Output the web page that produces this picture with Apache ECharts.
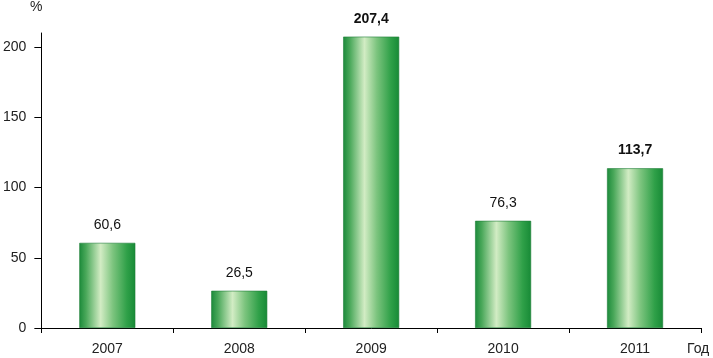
<!DOCTYPE html>
<html><head><meta charset="utf-8">
<script src="https://cdn.jsdelivr.net/npm/echarts@6/dist/echarts.min.js"></script>
<style>html,body{margin:0;padding:0;background:#fff}#c{width:713px;height:358px}</style>
</head><body><div id="c"></div>
<script>
var categories = ['2007', '2008', '2009', '2010', '2011'];
var values = [60.6, 26.5, 207.4, 76.3, 113.7];
var boldFlags = [false, false, true, false, true];
var yTicks = [0, 50, 100, 150, 200];

var font = 'Liberation Sans';
var grad = new echarts.graphic.LinearGradient(0, 0, 1, 0, [
  {offset: 0, color: '#1b8a3a'},
  {offset: 0.12, color: '#4aa85a'},
  {offset: 0.38, color: '#d2ecc4'},
  {offset: 0.6, color: '#7cc47e'},
  {offset: 0.85, color: '#2fa048'},
  {offset: 1, color: '#178a36'}
]);
var chart = echarts.init(document.getElementById('c'));
chart.setOption({
  animation: false,
  grid: {left: 40, right: 12, top: 33, bottom: 30, containLabel: false},
  xAxis: {
    type: 'category', data: categories,
    axisLine: {lineStyle: {color: '#000', width: 1}},
    axisTick: {show: true, inside: false, length: 5, lineStyle: {color: '#000'}},
    axisLabel: {color: '#222', fontFamily: font, fontSize: 14, margin: 14}
  },
  yAxis: {
    type: 'value', min: 0, max: 210, interval: 50,
    splitLine: {show: false},
    axisLine: {show: true, lineStyle: {color: '#000', width: 1}},
    axisTick: {show: true, length: 7, lineStyle: {color: '#000'}, customValues: yTicks},
    axisLabel: {color: '#222', fontFamily: font, fontSize: 14, margin: 15, customValues: yTicks}
  },
  graphic: [
    {type: 'text', left: 30, top: 0, style: {text: '%', font: '14px ' + font, fill: '#222'}},
    {type: 'text', left: 687, top: 342, style: {text: 'Год', font: '14px ' + font, fill: '#222'}}
  ],
  series: [{
    type: 'bar',
    barWidth: 56,
    data: values.map(function (v, i) {
      return {value: v, label: {fontWeight: boldFlags[i] ? 'bold' : 'normal'}};
    }),
    itemStyle: {color: grad, borderColor: '#1f7d38', borderWidth: 0.6},
    label: {
      show: true, position: 'top', distance: 11,
      fontFamily: font, fontSize: 14, color: '#111',
      formatter: function (p) { return String(p.value).replace('.', ','); }
    }
  }]
});
</script></body></html>
